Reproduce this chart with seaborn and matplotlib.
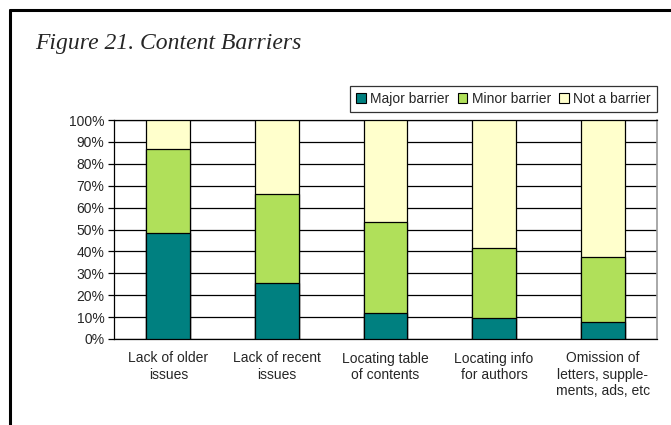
import numpy as np
import pandas as pd
import matplotlib
matplotlib.use("Agg")
import matplotlib.pyplot as plt
import seaborn as sns
from matplotlib.lines import Line2D
from matplotlib.patches import Patch

# ============================================================
#  DATA
# ============================================================

categories = [
    "Lack of older\nissues",
    "Lack of recent\nissues",
    "Locating table\nof contents",
    "Locating info\nfor authors",
    "Omission of\nletters, supple-\nments, ads, etc",
]
major_barrier = [48.5, 25.4, 12.0, 9.7, 7.6]
minor_barrier = [38.1, 40.8, 41.6, 31.9, 29.7]
not_a_barrier = [13.4, 33.8, 46.4, 58.4, 62.7]

series_names = ["Major barrier", "Minor barrier", "Not a barrier"]
colors = ["#008080", "#B0E05A", "#FFFFCC"]

# ============================================================
#  PLOT
# ============================================================

sns.set_style("white")
plt.rcParams["font.family"] = ["Liberation Sans", "DejaVu Sans"]

df = pd.DataFrame({
    "category": categories,
    "major": major_barrier,
    "minor": minor_barrier,
    "not": not_a_barrier,
})
df["major_minor"] = df["major"] + df["minor"]
df["total"] = df["major_minor"] + df["not"]

fig = plt.figure(figsize=(6.71, 4.25), dpi=100)
ax = fig.add_axes([114 / 671, 1 - 339 / 425, 543 / 671, 219 / 425])

# stacked bars: draw cumulative totals back to front
for col, color in zip(["total", "major_minor", "major"], colors[::-1]):
    sns.barplot(data=df, x="category", y=col, color=color, width=0.405,
                edgecolor="black", linewidth=0.9, saturation=1, ax=ax, zorder=3)

ax.set_ylim(0, 100)
ax.set_xlim(-0.5, len(categories) - 0.5)
ax.set_yticks(np.arange(0, 101, 10))
ax.set_yticklabels([f"{v}%" for v in range(0, 101, 10)], fontsize=10)
ax.yaxis.grid(True, color="black", linewidth=0.9, zorder=0)
ax.set_axisbelow(True)
ax.set_xlabel("")
ax.set_ylabel("")
ax.tick_params(axis="x", which="major", length=0, labelsize=10, pad=9)
ax.set_xticks(np.arange(0.5, len(categories) - 0.5, 1), minor=True)
ax.tick_params(axis="x", which="minor", length=4, width=0.9, color="black")
ax.tick_params(axis="y", length=4, width=0.9, color="black", pad=3, left=True)

for side in ["left", "bottom", "top"]:
    ax.spines[side].set_color("black")
    ax.spines[side].set_linewidth(0.9)
ax.spines["right"].set_color("#999999")
ax.spines["right"].set_linewidth(1.2)

handles = [Patch(facecolor=c, edgecolor="black", linewidth=0.8) for c in colors]
leg = ax.legend(handles, series_names, ncol=3, loc="lower right",
                bbox_to_anchor=(657 / 671, 1 - 112 / 425),
                bbox_transform=fig.transFigure, frameon=True, fancybox=False,
                edgecolor="black", fontsize=10, handlelength=0.7,
                handleheight=0.7, handletextpad=0.3, columnspacing=0.6,
                borderpad=0.45, borderaxespad=0)
leg.get_frame().set_linewidth(0.9)

# title and outer border
fig.text(35 / 671, 1 - 44 / 425, "Figure 21. Content Barriers",
         family=["Liberation Serif", "DejaVu Serif"], style="italic",
         fontsize=17, va="center", ha="left")
fig.add_artist(Line2D([10 / 671, 10 / 671], [0, 1 - 10 / 425],
                      transform=fig.transFigure, color="black", linewidth=2.2))
fig.add_artist(Line2D([10 / 671, 1], [1 - 10 / 425, 1 - 10 / 425],
                      transform=fig.transFigure, color="black", linewidth=2.2))

fig.savefig("out.png", dpi=100)
